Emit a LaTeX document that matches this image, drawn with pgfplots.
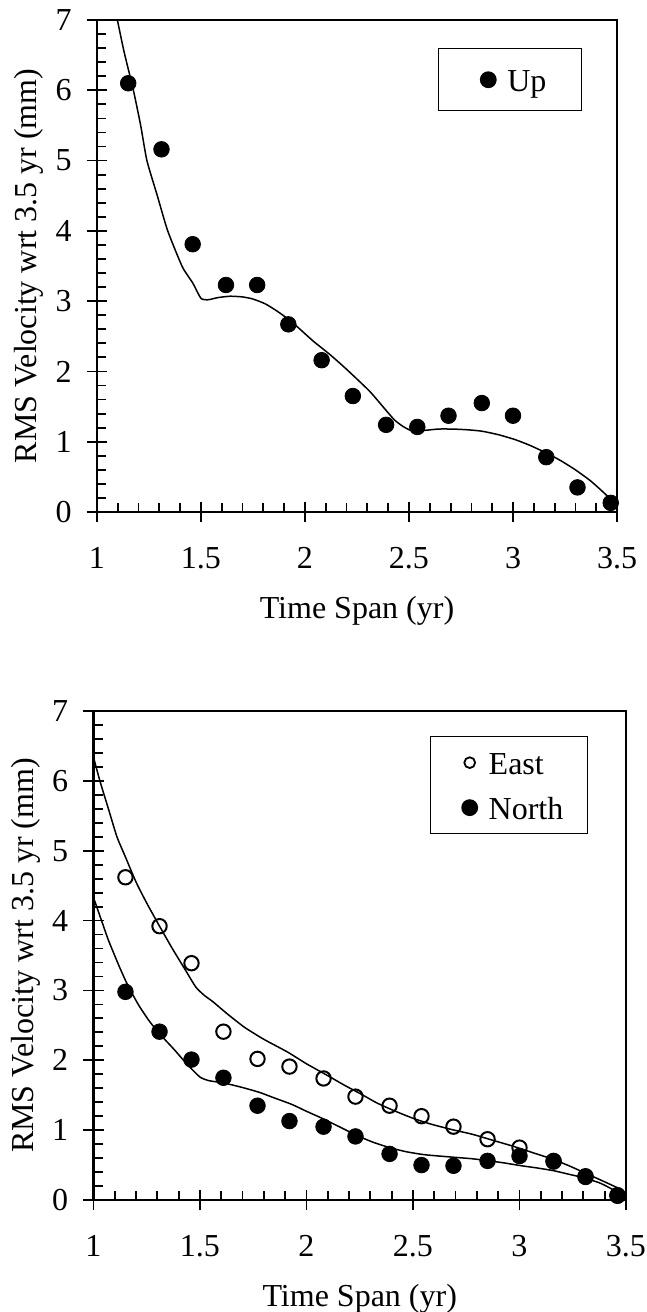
\documentclass[border=0pt]{standalone}
\usepackage{fontspec}
\setmainfont{Liberation Serif}
\usepackage{pgfplots}
\pgfplotsset{compat=1.18}

% shared look of both panels
\pgfplotsset{
  rmsaxis/.style={
    scale only axis,
    clip=false,
    font=\fontsize{16}{19.2}\selectfont,
    xmin=1, xmax=3.5, ymin=0, ymax=7,
    xtick={1,1.5,2,2.5,3,3.5},
    ytick={0,1,2,3,4,5,6,7},
    minor x tick num=4, minor y tick num=4,
    tick pos=left,
    tick align=inside,
    major tick length=10pt, minor tick length=4.5pt,
    every major x tick/.append style={yshift=-5pt},
    every major y tick/.append style={xshift=-5pt},
    tick style={black, line width=0.9pt},
    axis line style={black, line width=1.1pt},
    /pgf/number format/assume math mode=true,
    xticklabel style={inner sep=0pt, anchor=north, yshift=-17.5pt},
    yticklabel style={inner sep=0pt, anchor=east, xshift=-12.5pt},
    xlabel={Time Span (yr)},
    ylabel={RMS Velocity wrt 3.5 yr (mm)},
    legend cell align=left,
    legend image code/.code={%
      \path[draw=none, fill=none] (-7.5pt,-4pt) rectangle (9.5pt,4pt);
      \draw[##1] plot coordinates {(0pt,0pt)};},
  },
  dots/.style={only marks, mark=*, mark size=3.9pt, black},
  rings/.style={only marks, mark=o, mark size=3.6pt, black, mark options={line width=1pt}},
  fit/.style={black, line width=0.75pt, forget plot, smooth, tension=0.35},
}

\begin{document}
\begin{tikzpicture}
\useasboundingbox (-48.5pt,-400pt) rectangle (275pt,256pt);

% ---- top panel: Up ----
\begin{axis}[
  rmsaxis,
  at={(0pt,0pt)}, anchor=south west,
  width=260pt, height=246pt,
  xlabel style={at={(axis description cs:0.5,-0.1707)}, anchor=north, inner sep=0pt},
  ylabel style={at={(axis description cs:-0.1154,0.5)}, anchor=base, inner sep=0pt},
  legend style={at={(0.9327,0.943)}, anchor=north east, draw=black, line width=0.6pt,
    inner xsep=17.5pt, inner ysep=6pt,
    nodes={inner sep=0pt, text height=15.6pt, text depth=3.5pt}},
]
\addplot[dots] coordinates {
  (1.15,6.10)(1.31,5.16)(1.46,3.81)(1.62,3.23)(1.77,3.23)(1.92,2.67)
  (2.08,2.16)(2.23,1.65)(2.39,1.24)(2.54,1.21)(2.69,1.37)(2.85,1.55)
  (3.00,1.37)(3.16,0.78)(3.31,0.35)(3.47,0.13)
};
\addlegendentry{Up}
\addplot[fit] coordinates {
  (1.098,7.00)(1.13,6.55)(1.175,6.00)(1.21,5.50)(1.24,5.00)(1.29,4.50)
  (1.34,4.00)(1.41,3.49)(1.46,3.26)(1.50,3.04)(1.535,3.02)(1.58,3.05)
  (1.64,3.07)(1.70,3.06)(1.75,3.03)(1.81,2.96)(1.87,2.85)(1.93,2.72)
  (1.98,2.59)(2.04,2.43)(2.12,2.24)(2.20,2.03)(2.31,1.72)(2.38,1.48)
  (2.43,1.31)(2.47,1.22)(2.51,1.16)(2.57,1.16)(2.64,1.18)(2.71,1.18)
  (2.78,1.17)(2.85,1.15)(2.93,1.10)(3.01,1.03)(3.08,0.95)(3.16,0.84)
  (3.23,0.73)(3.30,0.60)(3.37,0.45)(3.42,0.32)(3.46,0.21)(3.50,0.10)
};
\end{axis}

% ---- bottom panel: East and North ----
\begin{axis}[
  rmsaxis,
  at={(-1.75pt,-344pt)}, anchor=south west,
  width=266.25pt, height=244.5pt,
  xlabel style={at={(axis description cs:0.5,-0.1718)}, anchor=north, inner sep=0pt},
  ylabel style={at={(axis description cs:-0.1127,0.5)}, anchor=base, inner sep=0pt},
  legend style={at={(0.9286,0.949)}, anchor=north east, draw=black, line width=0.6pt,
    inner xsep=12pt, inner ysep=3.5pt, row sep=3.4pt,
    nodes={inner sep=0pt, text height=15.6pt, text depth=3.5pt}},
]
\addplot[rings, legend image post style={mark size=2.7pt, mark options={line width=0.9pt}}] coordinates {
  (1.15,4.62)(1.31,3.92)(1.46,3.39)(1.61,2.41)(1.77,2.02)(1.92,1.91)
  (2.08,1.74)(2.23,1.48)(2.39,1.35)(2.54,1.20)(2.69,1.05)(2.85,0.87)
  (3.00,0.75)(3.16,0.56)(3.31,0.34)(3.46,0.07)
};
\addlegendentry{East}
\addplot[dots] coordinates {
  (1.15,2.98)(1.31,2.41)(1.46,2.01)(1.61,1.75)(1.77,1.35)(1.92,1.13)
  (2.08,1.05)(2.23,0.91)(2.39,0.66)(2.54,0.50)(2.69,0.49)(2.85,0.56)
  (3.00,0.63)(3.16,0.55)(3.31,0.33)(3.46,0.06)
};
\addlegendentry{North}
\addplot[fit] coordinates {
  (1.00,6.34)(1.03,6.00)(1.07,5.60)(1.11,5.20)(1.15,4.91)(1.20,4.55)
  (1.25,4.25)(1.31,3.92)(1.37,3.60)(1.43,3.30)(1.48,3.05)(1.52,2.93)
  (1.56,2.84)(1.63,2.66)(1.71,2.47)(1.80,2.30)(1.91,2.12)(2.00,1.95)
  (2.10,1.78)(2.18,1.64)(2.26,1.51)(2.33,1.39)(2.41,1.28)(2.50,1.17)
  (2.58,1.09)(2.68,1.01)(2.78,0.94)(2.88,0.85)(2.97,0.77)(3.06,0.68)
  (3.16,0.58)(3.24,0.48)(3.32,0.37)(3.40,0.26)(3.47,0.16)(3.50,0.10)
};
\addplot[fit] coordinates {
  (1.00,4.33)(1.04,3.98)(1.07,3.72)(1.12,3.35)(1.16,3.08)(1.21,2.80)
  (1.26,2.57)(1.31,2.38)(1.38,2.15)(1.44,1.94)(1.50,1.76)(1.54,1.71)
  (1.58,1.69)(1.62,1.67)(1.70,1.61)(1.78,1.54)(1.85,1.46)(1.93,1.37)
  (2.00,1.27)(2.08,1.16)(2.16,1.04)(2.24,0.92)(2.31,0.83)(2.39,0.75)
  (2.47,0.69)(2.55,0.65)(2.62,0.63)(2.70,0.61)(2.78,0.59)(2.86,0.56)
  (2.93,0.53)(3.01,0.49)(3.08,0.46)(3.16,0.42)(3.23,0.37)(3.30,0.32)
  (3.38,0.24)(3.45,0.13)(3.50,0.03)
};
\end{axis}
\end{tikzpicture}
\end{document}
